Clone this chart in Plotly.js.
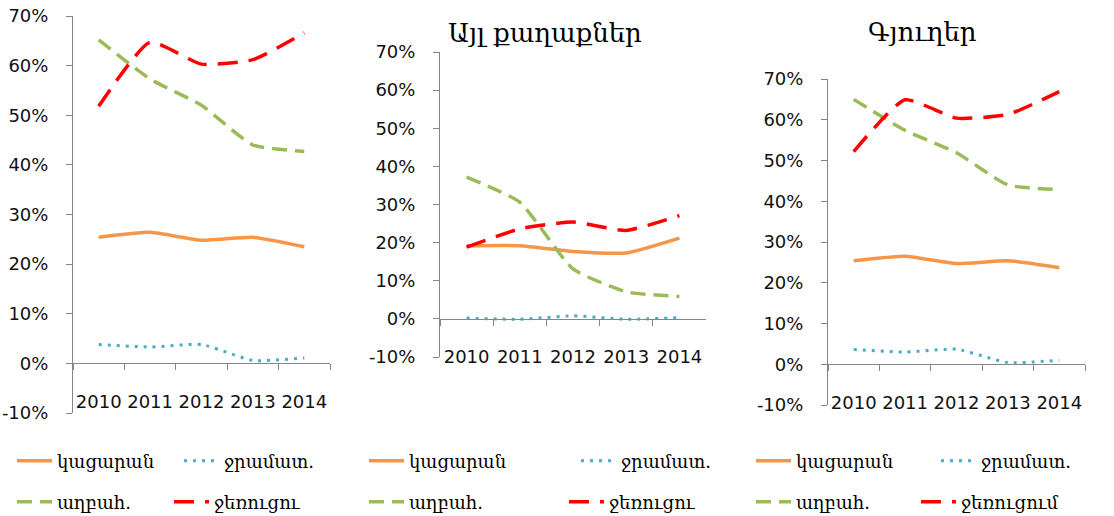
<!DOCTYPE html>
<html><head><meta charset="utf-8">
<script src="https://cdn.plot.ly/plotly-3.0.1.min.js"></script>
<style>html,body{margin:0;padding:0;background:#fff}#chart{width:1114px;height:516px}</style>
</head><body><div id="chart"></div>
<script>
// ---- data ----
const years = ['2010', '2011', '2012', '2013', '2014'];
const namesA = ['կացարան', 'ջրամատ.', 'աղբահ.', 'ջեռուցու'];
const namesC = ['կացարան', 'ջրամատ.', 'աղբահ.', 'ջեռուցում'];
const panelTitles = ['', 'Այլ քաղաքներ', 'Գյուղեր'];

// panel 1
const p1Kacaran = [25.4, 26.4, 24.8, 25.4, 23.5];
const p1Jramat = [3.8, 3.3, 3.8, 0.6, 1.1];
const p1Aghbah = [65.2, 57.3, 52.0, 44.0, 42.7];
const p1Jerucum = [51.8, 64.7, 60.3, 61.2, 66.6];
// panel 2 - other cities
const p2Kacaran = [19.2, 19.2, 17.7, 17.3, 21.2];
const p2Jramat = [0.2, -0.1, 0.8, -0.1, 0.3];
const p2Aghbah = [37.2, 30.6, 13.1, 7.1, 5.9];
const p2Jerucum = [18.8, 23.6, 25.4, 23.2, 27.1];
// panel 3 - villages
const p3Kacaran = [25.4, 26.5, 24.7, 25.4, 23.7];
const p3Jramat = [3.6, 3.0, 3.7, 0.4, 1.0];
const p3Aghbah = [65.0, 57.4, 51.9, 44.0, 42.9];
const p3Jerucum = [52.2, 64.9, 60.4, 61.3, 66.9];

const yTickVals = [-10, 0, 10, 20, 30, 40, 50, 60, 70];

// ---- styles ----
const W = 1114, H = 516;
const styles = [
  {color: '#F79646', width: 3.5, dash: 'solid'},
  {color: '#4BACC6', width: 3, dash: '3px,6px'},
  {color: '#9BBB59', width: 3.5, dash: '15px,8px'},
  {color: '#FF0000', width: 3.5, dash: '20px,11px'}
];
// panel boxes in pixels: [left, right, top, bottom]
const boxes = [[73, 330, 16, 413], [440, 706, 52, 357], [828, 1085, 79, 405]];
const panels = [
  {series: [p1Kacaran, p1Jramat, p1Aghbah, p1Jerucum], names: namesA},
  {series: [p2Kacaran, p2Jramat, p2Aghbah, p2Jerucum], names: namesA},
  {series: [p3Kacaran, p3Jramat, p3Aghbah, p3Jerucum], names: namesC}
];
const legendX = [12, 364, 751];
const legendRowY = [461, 502];
const entryW = [[117, 107], [162, 150], [135, 115]];

const tickFont = {family: 'DejaVu Sans', size: 18, color: '#111'};
const armFont = 'DejaVu Serif';

const data = [];
const layout = {
  width: W, height: H, margin: {l: 0, r: 0, t: 0, b: 0, autoexpand: false},
  paper_bgcolor: '#fff', plot_bgcolor: 'rgba(0,0,0,0)',
  showlegend: true, annotations: []
};

panels.forEach((p, i) => {
  const k = i + 1;
  const xa = k === 1 ? 'x' : 'x' + k;
  const ya = k === 1 ? 'y' : 'y' + k;
  const [l, r, t, b] = boxes[i];
  const y0 = 1 - b / H, y1 = 1 - t / H;
  const zeroPos = y0 + (10 / 80) * (y1 - y0);
  layout['xaxis' + (k === 1 ? '' : k)] = {
    domain: [l / W, r / W], type: 'category', range: [-0.5, 4.5],
    anchor: 'free', position: zeroPos,
    showline: true, linecolor: '#868686', linewidth: 1,
    ticks: 'outside', ticklen: 6, tickcolor: '#868686', tickson: 'boundaries',
    tickangle: 0, ticklabelstandoff: 22, tickfont: tickFont,
    showgrid: false, zeroline: false, fixedrange: true, automargin: false
  };
  layout['yaxis' + (k === 1 ? '' : k)] = {
    domain: [y0, y1], anchor: xa, range: [-10, 70],
    tickvals: yTickVals, ticktext: yTickVals.map(v => v + '%'),
    showline: true, linecolor: '#868686', linewidth: 1,
    ticks: 'outside', ticklen: 6, tickcolor: '#868686',
    ticklabelstandoff: 14, tickfont: tickFont,
    showgrid: false, zeroline: false, fixedrange: true, automargin: false
  };
  if (panelTitles[i]) {
    layout.annotations.push({
      text: panelTitles[i], xref: 'paper', yref: 'paper',
      x: [0, 545, 922][i] / W, y: 1 - [0, 33, 32][i] / H,
      xanchor: 'center', yanchor: 'middle', showarrow: false,
      font: {family: armFont, size: 26, color: '#000'}
    });
  }
  const legIds = ['legend' + (i * 2 + 1 === 1 ? '' : i * 2 + 1), 'legend' + (i * 2 + 2)];
  legIds.forEach((id, row) => {
    layout[id] = {
      orientation: 'h', x: legendX[i] / W, y: 1 - legendRowY[row] / H,
      xanchor: 'left', yanchor: 'middle', bgcolor: 'rgba(0,0,0,0)',
      entrywidth: entryW[i][row], entrywidthmode: 'pixels', itemwidth: 35,
      font: {family: armFont, size: 18, color: '#000'}, traceorder: 'normal'
    };
  });
  p.series.forEach((vals, s) => {
    data.push({
      type: 'scatter', mode: 'lines', x: years, y: vals, xaxis: xa, yaxis: ya,
      name: p.names[s], legend: legIds[s < 2 ? 0 : 1],
      line: {color: styles[s].color, width: styles[s].width, dash: styles[s].dash, shape: 'spline', smoothing: 0.5},
      hoverinfo: 'skip'
    });
  });
});

Plotly.newPlot('chart', data, layout, {displayModeBar: false, staticPlot: true});
</script></body></html>
